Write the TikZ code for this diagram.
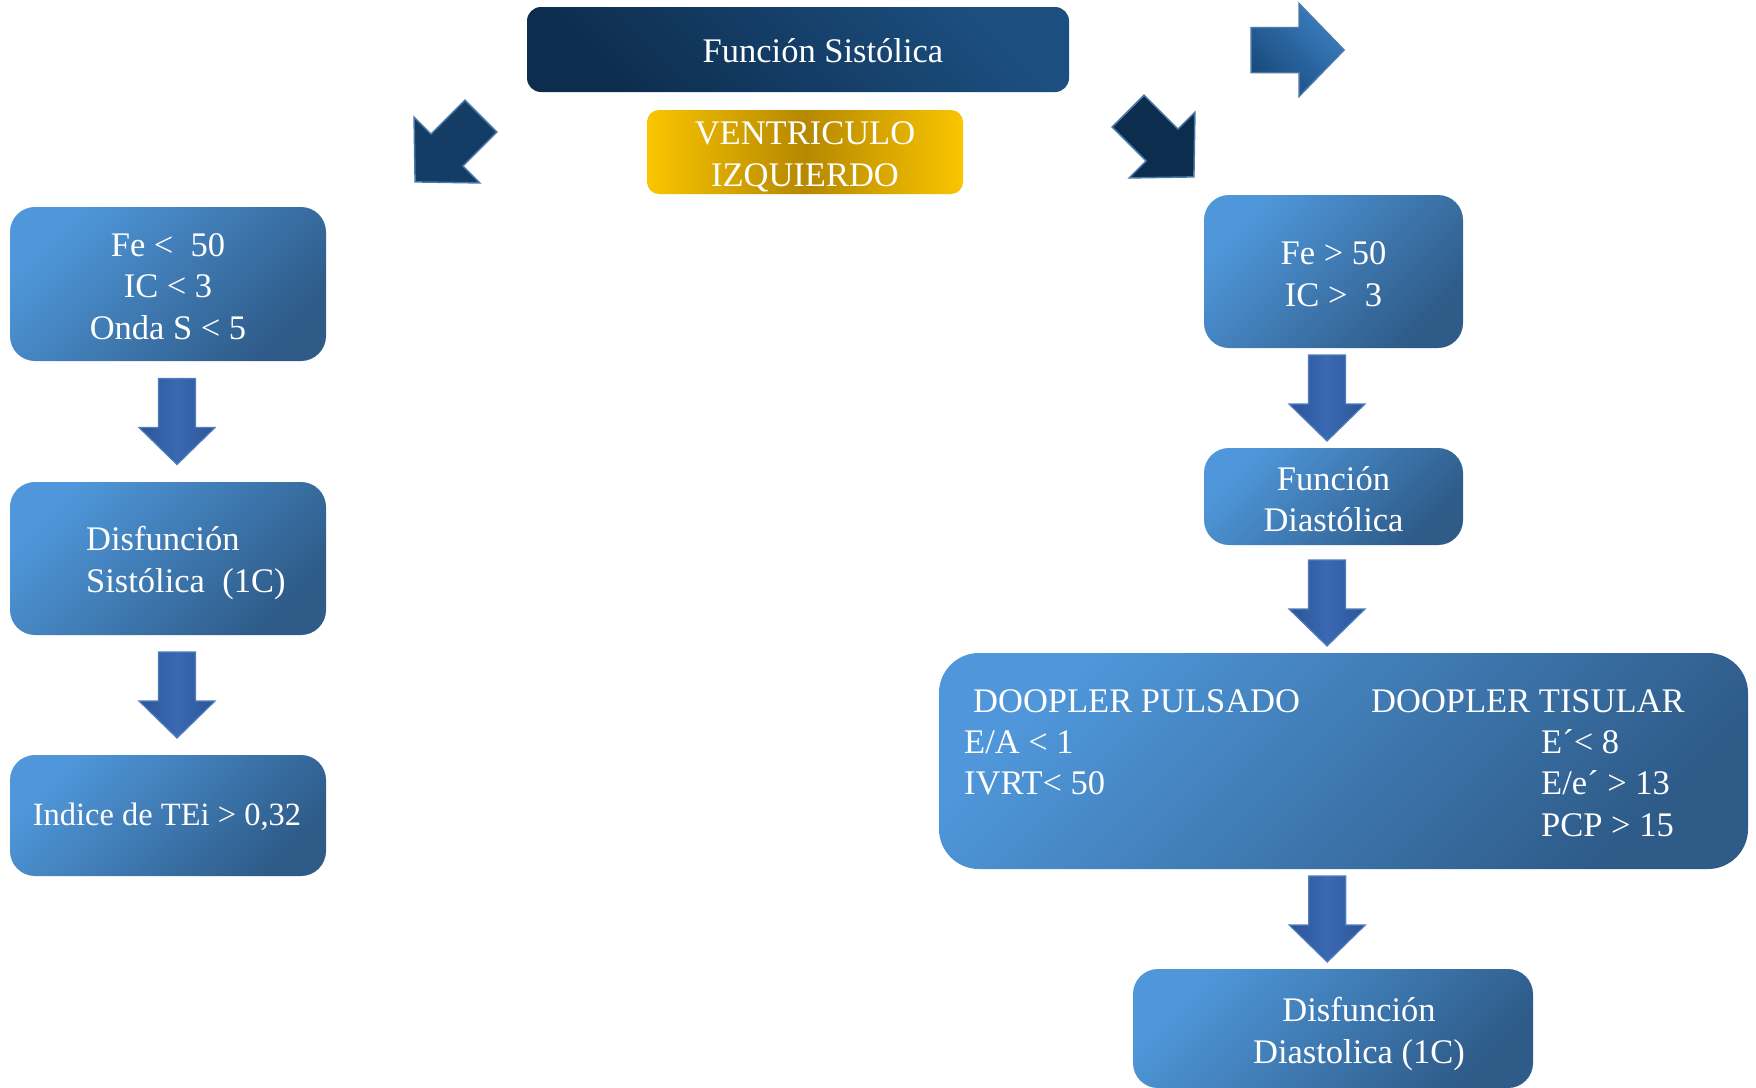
\documentclass[tikz,border=0pt]{standalone}
\usepackage{fontspec}
\setmainfont{Liberation Serif}
\usetikzlibrary{calc}
\definecolor{boxlight}{HTML}{4F97DA}
\definecolor{boxdark}{HTML}{2E5B88}
\definecolor{navylight}{HTML}{1C4F80}
\definecolor{navydark}{HTML}{0D2D4E}
\definecolor{goldlight}{HTML}{FAC500}
\definecolor{golddark}{HTML}{B58800}
\definecolor{arrowmid}{HTML}{3A69B2}
\definecolor{arrowedge}{HTML}{2C5596}
\definecolor{arrowline}{HTML}{4F7DBD}
\definecolor{diagfill}{HTML}{143D65}
\definecolor{diagline}{HTML}{4877A8}
\definecolor{rightlight}{HTML}{3C7FC2}
\definecolor{rightdark}{HTML}{184A7C}
\tikzset{every picture/.style={font issue=\fontsize{34.5}{41.5}},
         font issue/.style={execute at begin picture={#1\selectfont}}
        }
\tikzset{bluebox/.style={rounded corners=25pt, top color=boxlight, bottom color=boxdark, shading angle=45, text=white, align=center, inner sep=0pt},
         navybox/.style={rounded corners=14pt, top color=navylight, bottom color=navydark, shading angle=-45},
         goldbox/.style={rounded corners=12pt, left color=goldlight, right color=goldlight, middle color=golddark},
         txt/.style={text=white, inner sep=0pt},
         downarrow/.pic={\draw[draw=arrowline, line width=1.2pt, left color=arrowedge, right color=arrowedge, middle color=arrowmid] (-18.5,-43) -- (18.5,-43) -- (18.5,6) -- (38,6) -- (0,43) -- (-38,6) -- (-18.5,6) -- cycle;},
         fatarrow/.pic={\path[pic actions] (-46.5,-22.5) -- (1.5,-22.5) -- (1.5,-46.5) -- (46.5,0) -- (1.5,46.5) -- (1.5,22.5) -- (-46.5,22.5) -- cycle;}
        }
\begin{document}
\begin{tikzpicture}[x=1pt, y=-1pt]
        \fill [white] (0,0) rectangle (1756,1087);
        \useasboundingbox (0,0) rectangle (1756,1087);
        % top
        \node [navybox, minimum width=542pt, minimum height=85pt] (fsis) at (798,49.5) {};
        \node [txt] (fsistxt) at (823,51) {Función Sistólica};
        \node [goldbox, minimum width=316pt, minimum height=84pt] (vent) at (805,152) {};
        \node [txt, align=center] (venttxt) at (805,157) {VENTRICULO\\IZQUIERDO};
        \pic [draw=diagline, fill=diagfill, line width=1.5pt, rotate=225] at (448,149) {fatarrow};
        \pic [draw=diagline, fill=navydark, line width=1.5pt, rotate=-45] at (1161,144) {fatarrow};
        \pic [draw=diagline, top color=rightlight, bottom color=rightdark, shading angle=-45, line width=1.5pt] at (1297.5,50) {fatarrow};
        % left column
        \node [bluebox, minimum width=316pt, minimum height=154pt] (fe1) at (168,284) {};
        \node [txt, align=center] (fe1txt) at (168,286.5) {Fe < \ 50\\IC < 3\\Onda S < 5};
        \node [bluebox, minimum width=316pt, minimum height=153pt] (dis1) at (168,558.5) {};
        \node [txt, align=left, anchor=west] (dis1txt) at (86,563) {Disfunción\\Sistólica \ (1C)};
        \node [bluebox, minimum width=316pt, minimum height=121pt] (tei) at (168,815.5) {};
        \node [txt, font=\fontsize{32.5}{39}\selectfont] (teitxt) at (167,817) {Indice de TEi > 0,32};
        \pic [xshift=9pt] at ($(fe1.south)!.5!(dis1.north)$) {downarrow};
        \pic [xshift=9pt] at ($(dis1.south)!.5!(tei.north)$) {downarrow};
        % right column
        \node [bluebox, minimum width=259pt, minimum height=153pt] (fe2) at (1333.5,271.5) {};
        \node [txt, align=center] (fe2txt) at (1333.5,274) {Fe > 50\\IC > \ 3};
        \node [bluebox, minimum width=259pt, minimum height=97pt] (fdia) at (1333.5,496.5) {};
        \node [txt, align=center] (fdiatxt) at (1333.5,499) {Función\\Diastólica};
        \node [bluebox, rounded corners=40pt, minimum width=809pt, minimum height=216pt] (doppler) at (1343.5,761) {};
        \node [txt, anchor=base west] (pulsado) at (973,712) {DOOPLER PULSADO};
        \node [txt, anchor=base west] (ea) at (964,753) {E/A < 1};
        \node [txt, anchor=base west] (ivrt) at (964,794) {IVRT< 50};
        \node [txt, anchor=base west] (tisular) at (1371,712) {DOOPLER TISULAR};
        \node [txt, anchor=base west] (eprime) at (1541,753) {E´< 8};
        \node [txt, anchor=base west] (ee) at (1541,794) {E/e´ > 13};
        \node [txt, anchor=base west] (pcp) at (1541,836) {PCP > 15};
        \node [bluebox, minimum width=400pt, minimum height=119pt] (dis2) at (1333,1028.5) {};
        \node [txt, align=center] (dis2txt) at (1359,1034) {Disfunción\\Diastolica (1C)};
        \pic [xshift=-6.5pt] at ($(fe2.south)!.5!(fdia.north)$) {downarrow};
        \pic [xshift=-11.5pt, yshift=-4pt] at ($(fdia.south)!.5!(doppler.north)$) {downarrow};
        \pic [xshift=-11pt] at ($(doppler.south)!.5!(dis2.north)$) {downarrow};
      \end{tikzpicture}
\end{document}
